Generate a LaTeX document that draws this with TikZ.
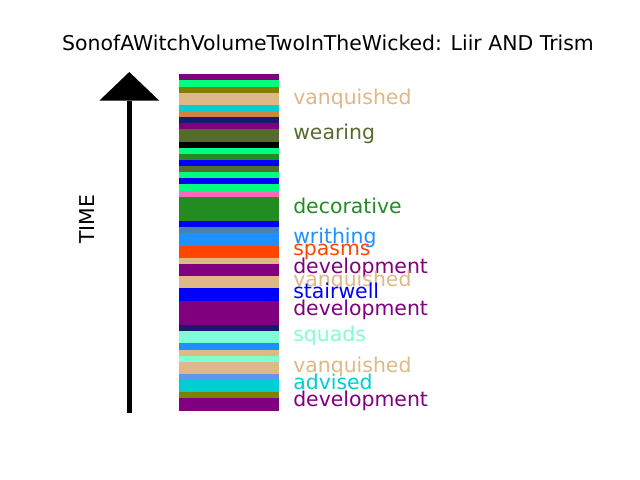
\PassOptionsToPackage{svgnames}{xcolor}
\documentclass[tikz,border=0pt]{standalone}
\usepackage{fontspec}
\setmainfont{DejaVu Sans}
\usepackage{tikz}
\usetikzlibrary{calc}

\begin{document}
\begin{tikzpicture}[x=0.72pt, y=-0.72pt, lbl/.style={anchor=base west, inner sep=0pt, font=\fontsize{14.7}{17}\selectfont}]
    \useasboundingbox (0,0) rectangle (640,480);

    \node[anchor=base, inner sep=0pt, font=\fontsize{14.7}{17}\selectfont] (title) at (328,50) {SonofAWitchVolumeTwoInTheWicked: Liir AND Trism};

    % time arrow
    \coordinate (tail) at (129.3,412.7);
    \coordinate (head) at (129.3,72);
    \draw[line width=3.6pt] (tail) -- ($(head)+(0,28.7)$);
    \fill (head) -- (159.3,100.7) -- (99.3,100.7) -- cycle;
    \node[anchor=base, rotate=90, inner sep=0pt, font=\fontsize{14.7}{17}\selectfont] (time) at (94,219) {TIME};

    % stripes: first unit, number of units, colour
    \foreach \s/\n/\c in {1/1/Purple, 2/1/SpringGreen, 3/1/Olive, 4/2/BurlyWood, 6/1/DarkTurquoise,
        7/1/Peru, 8/1/MidnightBlue, 9/1/Purple, 10/2/DarkOliveGreen, 12/1/Black, 13/1/SpringGreen,
        14/1/ForestGreen, 15/1/Blue, 16/1/DarkOliveGreen, 17/1/SpringGreen, 18/1/Blue, 19/1/SpringGreen,
        20/1/HotPink, 21/4/ForestGreen, 25/1/Blue, 26/1/SteelBlue, 27/2/DodgerBlue, 29/2/OrangeRed,
        31/1/BurlyWood, 32/2/Purple, 34/2/BurlyWood, 36/2/Blue, 38/4/Purple, 42/1/MidnightBlue,
        43/2/Aquamarine, 45/1/DodgerBlue, 46/1/BurlyWood, 47/1/Aquamarine, 48/2/BurlyWood,
        50/1/CornflowerBlue, 51/2/DarkTurquoise, 53/1/Olive, 54/2/Purple}
        \fill[\c] (179,{74.3+(\s-1)*6.116}) rectangle (278.7,{74.3+(\s+\n-1)*6.116});

    \node[lbl, BurlyWood] (van1) at (293,104) {vanquished};
    \node[lbl, DarkOliveGreen] (wear) at (293,139.5) {wearing};
    \node[lbl, ForestGreen] (deco) at (293,213) {decorative};
    \node[lbl, DodgerBlue] (writ) at (293,243) {writhing};
    \node[lbl, OrangeRed] (spas) at (293,255.5) {spasms};
    \node[lbl, Purple] (dev1) at (293,273) {development};
    \node[lbl, BurlyWood] (van2) at (293,286.3) {vanquished};
    \node[lbl, Blue] (stair) at (293,298.6) {stairwell};
    \node[lbl, Purple] (dev2) at (293,315.6) {development};
    \node[lbl, Aquamarine] (squa) at (293,341) {squads};
    \node[lbl, BurlyWood] (van3) at (293,372) {vanquished};
    \node[lbl, DarkTurquoise] (advi) at (293,389.3) {advised};
    \node[lbl, Purple] (dev3) at (293,406.6) {development};

\end{tikzpicture}
\end{document}
